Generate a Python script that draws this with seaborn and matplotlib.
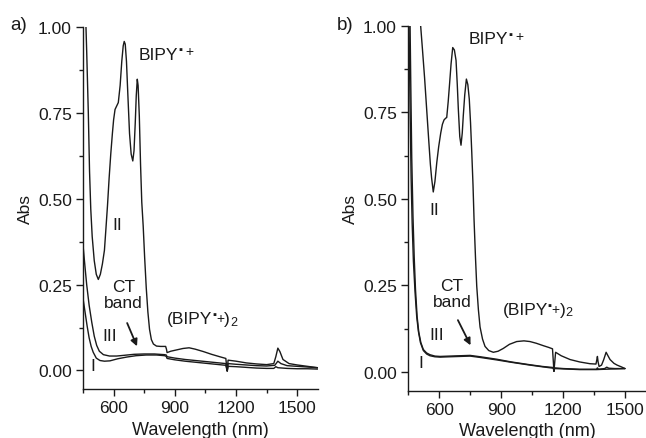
import numpy as np
import pandas as pd
import matplotlib
matplotlib.use("Agg")
import matplotlib.pyplot as plt
import seaborn as sns

# spectra (wavelength in nm, absorbance)
wl_a_II = [460, 464, 468, 472, 476, 482, 488, 495, 505, 515, 525, 535, 545, 555, 562, 570,
           578, 586, 594, 600, 607, 615, 623, 632, 640, 647, 652, 657, 663, 670, 678, 686,
           694, 700, 706, 711, 716, 720, 726, 732, 738, 745, 752, 760, 768, 776, 785, 795,
           810, 830, 855, 859, 862, 880, 910, 940, 970, 1000, 1040, 1080, 1120, 1150, 1154,
           1157, 1161, 1200, 1250, 1300, 1350, 1385, 1395, 1405, 1415, 1430, 1460, 1500,
           1550, 1600]
abs_a_II = [1.10, 1.01, 0.93, 0.84, 0.75, 0.58, 0.47, 0.39, 0.32, 0.28, 0.265, 0.28, 0.31,
            0.35, 0.41, 0.48, 0.56, 0.63, 0.69, 0.73, 0.76, 0.77, 0.78, 0.83, 0.90, 0.945,
            0.958, 0.95, 0.90, 0.80, 0.69, 0.63, 0.61, 0.64, 0.72, 0.80, 0.848, 0.83, 0.74,
            0.60, 0.49, 0.42, 0.33, 0.24, 0.17, 0.12, 0.09, 0.077, 0.071, 0.07, 0.07, 0.062,
            0.052, 0.056, 0.060, 0.064, 0.066, 0.062, 0.055, 0.047, 0.040, 0.035, 0.012,
            -0.002, 0.03, 0.027, 0.022, 0.019, 0.017, 0.02, 0.04, 0.065, 0.055, 0.032, 0.02,
            0.016, 0.012, 0.008]

wl_a_III = [450, 460, 468, 480, 493, 505, 517, 530, 550, 580, 615, 650, 700, 750, 800, 850,
            858, 862, 900, 950, 1000, 1050, 1100, 1150, 1154, 1157, 1161, 1200, 1250, 1300,
            1350, 1390, 1405, 1420, 1450, 1500, 1550, 1600]
abs_a_III = [0.365, 0.30, 0.25, 0.19, 0.14, 0.10, 0.073, 0.056, 0.046, 0.042, 0.042, 0.044,
             0.047, 0.048, 0.048, 0.046, 0.045, 0.04, 0.036, 0.032, 0.029, 0.026, 0.023, 0.02,
             0.008, 0.0, 0.02, 0.018, 0.016, 0.014, 0.013, 0.015, 0.027, 0.02, 0.014, 0.012,
             0.01, 0.008]

wl_a_I = [450, 460, 470, 480, 490, 500, 515, 533, 555, 582, 620, 664, 710, 760, 810, 850,
          858, 862, 900, 950, 1000, 1050, 1100, 1150, 1154, 1157, 1161, 1200, 1250, 1300,
          1350, 1385, 1395, 1405, 1450, 1500, 1550, 1600]
abs_a_I = [0.21, 0.17, 0.13, 0.095, 0.07, 0.053, 0.036, 0.029, 0.027, 0.028, 0.034, 0.039,
           0.043, 0.045, 0.045, 0.043, 0.041, 0.035, 0.031, 0.027, 0.024, 0.021, 0.018, 0.015,
           0.005, -0.002, 0.012, 0.011, 0.009, 0.007, 0.006, 0.006, 0.011, 0.008, 0.006,
           0.005, 0.005, 0.004]

wl_b_II = [505, 511, 520, 530, 540, 550, 558, 564, 572, 580, 589, 598, 608, 616, 624, 632,
           637, 644, 650, 658, 666, 674, 682, 688, 693, 700, 706, 712, 717, 724, 732, 739,
           746, 752, 758, 764, 769, 776, 782, 790, 798, 810, 822, 840, 862, 885, 910, 940,
           975, 1010, 1039, 1070, 1104, 1130, 1148, 1152, 1155, 1159, 1163, 1190, 1233,
           1280, 1329, 1358, 1362, 1365, 1368, 1373, 1385, 1395, 1407, 1415, 1426, 1445,
           1460, 1480, 1498]
abs_b_II = [1.08, 1.0, 0.93, 0.85, 0.76, 0.67, 0.60, 0.56, 0.52, 0.55, 0.605, 0.65, 0.69,
            0.715, 0.728, 0.733, 0.735, 0.78, 0.826, 0.89, 0.937, 0.93, 0.90, 0.83, 0.76,
            0.68, 0.655, 0.69, 0.74, 0.80, 0.846, 0.83, 0.788, 0.72, 0.634, 0.54, 0.44, 0.33,
            0.248, 0.18, 0.13, 0.095, 0.074, 0.062, 0.057, 0.060, 0.068, 0.080, 0.088, 0.09,
            0.088, 0.083, 0.076, 0.071, 0.067, 0.03, 0.002, 0.03, 0.057, 0.047, 0.036, 0.029,
            0.024, 0.023, 0.035, 0.045, 0.03, 0.016, 0.02, 0.035, 0.057, 0.048, 0.036, 0.025,
            0.02, 0.015, 0.01]

wl_b_III = [450, 458, 463, 468, 474, 480, 486, 494, 502, 512, 524, 540, 556, 580, 605, 650,
            700, 750, 800, 878, 950, 1039, 1100, 1152, 1155, 1158, 1200, 1280, 1360, 1365,
            1370, 1400, 1410, 1420, 1450, 1498]
abs_b_III = [1.6, 1.1, 0.85, 0.62, 0.45, 0.33, 0.24, 0.16, 0.115, 0.085, 0.065, 0.055, 0.05,
             0.046, 0.045, 0.046, 0.047, 0.048, 0.044, 0.037, 0.029, 0.021, 0.016, 0.013,
             0.003, 0.012, 0.01, 0.008, 0.008, 0.012, 0.008, 0.01, 0.014, 0.011, 0.01, 0.01]

wl_b_I = [450, 455, 460, 465, 470, 476, 484, 492, 500, 510, 524, 540, 556, 580, 605, 650,
          700, 750, 800, 878, 950, 1039, 1100, 1152, 1155, 1158, 1200, 1280, 1360, 1400,
          1450, 1498]
abs_b_I = [1.4, 1.0, 0.76, 0.56, 0.43, 0.32, 0.23, 0.16, 0.118, 0.085, 0.062, 0.052, 0.047,
           0.044, 0.043, 0.044, 0.045, 0.046, 0.042, 0.035, 0.028, 0.02, 0.015, 0.011, 0.002,
           0.01, 0.009, 0.007, 0.007, 0.008, 0.009, 0.01]

x_major = [600, 900, 1200, 1500]
x_minor = [450, 750, 1050, 1350]
y_major = [0.00, 0.25, 0.50, 0.75, 1.00]
y_minor = [0.125, 0.375, 0.625, 0.875]

sns.set_style("ticks")
plt.rcParams['font.family'] = ['Liberation Sans', 'DejaVu Sans']
plt.rcParams['font.size'] = 12.5
FAM = ['Liberation Sans', 'DejaVu Sans']
INK = '#1a1a1a'

fig = plt.figure(figsize=(6.46, 4.39), dpi=100)
ax_a = fig.add_axes([0.1285, 0.1116, 0.3632, 0.8246])
ax_b = fig.add_axes([0.6316, 0.1077, 0.3685, 0.8314])

line_kw = dict(color=INK, linewidth=1.0, sort=False, estimator=None, legend=False)

for ax, curves in [(ax_a, [(wl_a_II, abs_a_II), (wl_a_III, abs_a_III), (wl_a_I, abs_a_I)]),
                   (ax_b, [(wl_b_II, abs_b_II), (wl_b_III, abs_b_III), (wl_b_I, abs_b_I)])]:
    for wl, ab in curves:
        df = pd.DataFrame({'wl': wl, 'abs': ab})
        sns.lineplot(data=df, x='wl', y='abs', ax=ax, **line_kw)
    ax.set_xlim(450, 1600)
    ax.set_ylim(-0.054, 1.0)
    ax.set_xticks(x_major)
    ax.set_xticks(x_minor, minor=True)
    ax.set_yticks(y_major)
    ax.set_yticks(y_minor, minor=True)
    ax.set_yticklabels([f"{v:.2f}" for v in y_major])
    ax.tick_params(which='major', direction='out', length=5, width=1, labelsize=12.5,
                   pad=3, colors=INK)
    ax.tick_params(which='minor', direction='out', length=3, width=1, colors=INK)
    ax.set_xlabel("Wavelength (nm)", fontsize=13, labelpad=4, color=INK)
    ax.set_ylabel("Abs", fontsize=12.5, labelpad=4, color=INK)
    sns.despine(ax=ax)
    for s in ['left', 'bottom']:
        ax.spines[s].set_linewidth(1.0)
        ax.spines[s].set_color(INK)


def radical(ax, x, y, closing=False, **kw):
    # "BIPY" with a superscript radical-cation mark, optionally wrapped as (..)2
    base = ax.text(x, y, "(BIPY" if closing else "BIPY", family=FAM, fontsize=12.5,
                   color=INK, **kw)
    dot = ax.annotate("\u25aa", xy=(1.0, 0.84), xycoords=base, ha='left', va='center',
                      fontsize=8, family=FAM, color=INK)
    plus = ax.annotate("+", xy=(1.0, 0.55 if closing else 0.68), xycoords=(dot, base),
                       xytext=(0 if closing else 2, 0), textcoords='offset points',
                       ha='left', va='center', fontsize=10, family=FAM, color=INK)
    if closing:
        par = ax.annotate(")", xy=(1.0, 0.0), xycoords=(plus, base), ha='left',
                          va='bottom', fontsize=12.5, family=FAM, color=INK)
        ax.annotate("2", xy=(1.0, -0.08), xycoords=par, ha='left', va='bottom',
                    fontsize=9, family=FAM, color=INK)


# annotations, panel a
radical(ax_a, 724, 0.921, ha='left', va='center')
ax_a.text(617, 0.424, "II", ha='center', va='center', color=INK)
ax_a.text(648, 0.222, "CT\nband", ha='center', va='center', linespacing=1.05, color=INK)
ax_a.text(582, 0.101, "III", ha='center', va='center', color=INK)
ax_a.text(499, 0.014, "I", ha='center', va='center', color=INK)
radical(ax_a, 862, 0.15, closing=True, ha='left', va='center')
ax_a.annotate("", xy=(720, 0.063), xytext=(661, 0.1455),
              arrowprops=dict(arrowstyle='-|>', color=INK, lw=1.3, mutation_scale=10))

# annotations, panel b
radical(ax_b, 745, 0.962, ha='left', va='center')
ax_b.text(576, 0.47, "II", ha='center', va='center', color=INK)
ax_b.text(663, 0.226, "CT\nband", ha='center', va='center', linespacing=1.05, color=INK)
ax_b.text(590, 0.108, "III", ha='center', va='center', color=INK)
ax_b.text(512, 0.027, "I", ha='center', va='center', color=INK)
radical(ax_b, 906, 0.18, closing=True, ha='left', va='center')
ax_b.annotate("", xy=(758, 0.070), xytext=(685, 0.157),
              arrowprops=dict(arrowstyle='-|>', color=INK, lw=1.3, mutation_scale=10))

fig.text(10 / 646, 1 - 25 / 439, "a)", ha='left', va='center', fontsize=13.5, color=INK)
fig.text(337 / 646, 1 - 26 / 439, "b)", ha='left', va='center', fontsize=13.5, color=INK)

fig.savefig("out.png", dpi=100)
